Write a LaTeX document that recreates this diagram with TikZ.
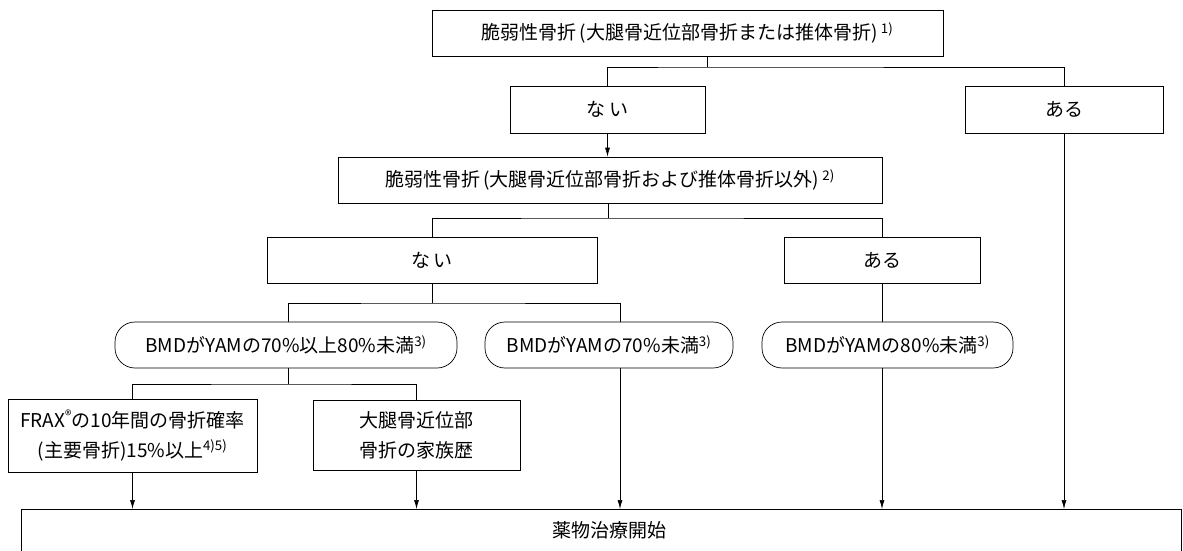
\documentclass[tikz,border=0pt]{standalone}
\usepackage{fontspec}
\setmainfont{Noto Sans CJK JP}
\usetikzlibrary{positioning,arrows.meta}
\newcommand{\fn}[1]{\textsuperscript{#1}}

\begin{document}
\begin{tikzpicture}[
x=1pt, y=-1pt,
font=\fontsize{19pt}{30pt}\selectfont,
>={Latex[length=9pt,width=5pt]},   % Pfeilspitzen
line width=0.7pt,
box/.style={draw, inner sep=0pt, align=center},
pill/.style={draw, inner sep=0pt, rounded corners=20pt}
]
\useasboundingbox (0,0) rectangle (1183,551);
\clip (0,0) rectangle (1183,551);

% Kaesten
\node[box, minimum width=511pt, minimum height=46pt] (frac1) at (687.5,33) {脆弱性骨折\,(大腿骨近位部骨折または推体骨折)\,\fn{1)}};
\node[box, minimum width=195pt, minimum height=47pt] (nai1) at (607.5,109.5) {な\,い};
\node[box, minimum width=198pt, minimum height=47pt] (aru1) at (1064,109.5) {ある};
\node[box, minimum width=544pt, minimum height=46pt] (frac2) at (610,180) {脆弱性骨折\,(大腿骨近位部骨折および推体骨折以外)\,\fn{2)}};
\node[box, minimum width=330pt, minimum height=46pt] (nai2) at (432,260) {な\,い};
\node[box, minimum width=196pt, minimum height=46pt] (aru2) at (882,260) {ある};

% BMD
\node[pill, minimum width=342pt, minimum height=46pt] (bmd1) at (286,345) {BMDがYAMの70\%以上80\%未満\fn{3)}};
\node[pill, minimum width=248pt, minimum height=46pt] (bmd2) at (609,345) {BMDがYAMの70\%未満\fn{3)}};
\node[pill, minimum width=251pt, minimum height=46pt] (bmd3) at (887.5,345) {BMDがYAMの80\%未満\fn{3)}};

\node[box, minimum width=249pt, minimum height=73pt] (frax) at (132.5,435.5) {FRAX\fn{®}の10年間の骨折確率\\(主要骨折)15\%以上\fn{4)5)}};
\node[box, minimum width=207pt, minimum height=70pt] (fam) at (416.5,435) {大腿骨近位部\\骨折の家族歴};

% Therapie
\node[box, anchor=north west, minimum width=1160pt, minimum height=90pt] (start) at (21,509) {};
\node (startlbl) at (609,530) {薬物治療開始};

% Verzweigungen
\coordinate (j1) at (707,67);
\coordinate (j2) at (608,218);
\coordinate (j3) at (432,303);
\coordinate (j4) at (288,384);

\draw (frac1.south -| j1) -- (j1);
\draw (nai1.north) |- (j1) -| (aru1.north);
\draw[->] (nai1.south) -- (frac2.north -| nai1.south);
\draw (frac2.south -| j2) -- (j2);
\draw (nai2.north) |- (j2) -| (aru2.north);
\draw (nai2.south) -- (j3);
\draw (bmd1.north -| j4) |- (j3) -| (bmd2.north -| 620,0);
\draw (aru2.south) -- (bmd3.north -| aru2.south);
\draw (bmd1.south -| j4) -- (j4);
\draw (frax.north) |- (j4) -| (fam.north);

% Pfeile zum Therapiebeginn
\draw[->] (frax.south) -- (start.north -| frax.south);
\draw[->] (fam.south) -- (start.north -| fam.south);
\draw[->] (bmd2.south -| 620,0) -- (start.north -| 620,0);
\draw[->] (bmd3.south -| aru2.south) -- (start.north -| aru2.south);
\draw[->] (aru1.south) -- (start.north -| aru1.south);
\end{tikzpicture}
\end{document}
